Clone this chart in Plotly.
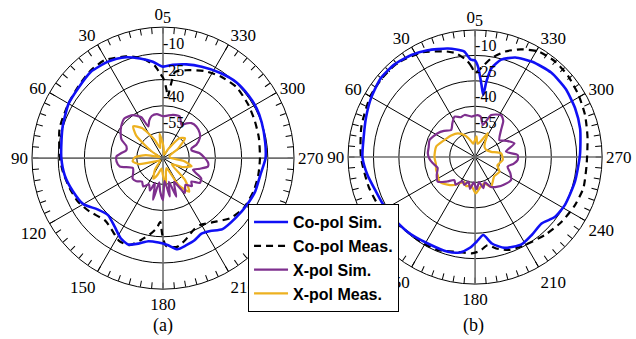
import plotly.graph_objects as go

# ---------------- data (pattern angle in deg, CCW from top; gain in dB) ----------------
# (a)
a_co_sim_theta = [0, 6, 13, 20, 25, 30, 40, 50, 60, 72, 80, 90, 100, 110, 120, 128, 136, 145, 152, 158,
                  164, 170, 177, 183, 189, 195, 201, 207, 213, 220, 231, 241, 250, 260, 270, 279, 290,
                  298, 306, 316, 326, 337, 346, 354, 360]
a_co_sim_r = [-17.6, -14.5, -11.5, -8.5, -7.2, -6.4, -5.6, -7.0, -7.6, -9.7, -11.0, -11.8, -12.9, -15.0,
              -17.3, -22.4, -24.7, -21.9, -18.2, -16.7, -19.1, -21.7, -21.6, -20.2, -17.2, -18.4, -19.6,
              -21.5, -20.3, -17.0, -16.1, -15.0, -13.9, -13.5, -11.3, -10.8, -9.9, -9.3, -9.3, -9.6,
              -11.2, -13.2, -14.7, -16.3, -17.6]

a_co_meas_theta = [0, 3, 5, 10, 14, 20, 31, 40, 50, 60, 74, 90, 98, 108, 117, 126, 137, 146, 152, 159,
                   165, 171, 175, 177.5, 179.5, 182, 189, 195, 203, 209, 218, 228, 238, 250, 260, 270,
                   282, 292, 302, 314, 325, 335, 345, 352, 354, 355.5, 357, 358.5, 360]
a_co_meas_r = [-24.0, -20.0, -17.0, -13.0, -10.6, -8.0, -4.7, -5.0, -6.5, -7.5, -8.4, -11.0, -12.2, -13.9,
               -15.3, -18.0, -21.3, -19.0, -16.4, -16.7, -21.5, -26.4, -30.0, -33.5, -26.0, -19.7,
               -18.6, -21.3, -25.3, -26.2, -23.5, -18.5, -15.7, -14.8, -14.6, -14.5, -13.9, -13.3,
               -12.4, -11.5, -12.8, -14.9, -17.9, -20.2, -28.0, -35.0, -31.0, -27.0, -24.0]

a_x_sim_theta = [0, 8, 15, 20, 25, 28, 35, 44, 53, 60, 66, 72, 78, 83, 88, 94, 101, 108, 116, 124, 131,
                 138, 145, 152, 158, 162, 166.5, 171, 175, 180, 184, 190, 194, 199, 205, 212, 220, 226,
                 230.5, 236, 242, 248.7, 254, 259.5, 264, 270, 278, 285, 289, 292, 298.6, 304, 313.5,
                 321, 326, 331, 338, 347, 354, 360]
a_x_sim_r = [-46, -44.5, -45, -47, -50, -43.5, -40, -38.3, -40, -42, -44, -48, -48.5, -46, -43.3, -43.3,
             -44.8, -51.9, -51, -49, -49.8, -52, -50.2, -53, -50, -55, -45.5, -56, -51, -46, -57, -47.7,
             -56, -46.7, -55, -46.5, -50, -47, -49, -44.6, -45.2, -51.6, -48, -43.8, -44, -46, -49, -53,
             -52.8, -49.4, -46, -44.6, -43.7, -44.2, -46, -48.2, -44.3, -44.6, -45.5, -46]

a_x_meas_theta = [0, 8, 15, 25, 35, 43, 50, 60, 70, 80, 88, 96, 104, 115, 130, 145, 155, 162, 172, 180,
                  186, 192, 200, 210, 218, 225, 235, 245, 254, 262, 275, 290, 302, 312, 320, 330, 345,
                  355, 360]
a_x_meas_r = [-62, -56, -64, -58, -49, -45, -50, -63, -68, -60, -54, -52.5, -56, -66, -68, -62, -57, -60,
              -64, -60, -54, -62, -64, -52, -45.6, -52, -64, -58, -53, -58, -66, -66, -60, -53, -55, -64,
              -68, -65, -62]

# (b)
b_co_sim_theta = [0, 2.5, 6, 14, 24, 32, 41, 50, 60, 70, 80, 90, 99.5, 109, 117, 127, 138, 151, 164, 171,
                  177, 181, 186, 191, 198, 208, 216, 225, 233, 242, 256, 271, 285, 296, 307, 318, 329,
                  338, 345, 349.5, 351.5, 352.5, 355, 358, 360]
b_co_sim_r = [-13.0, -12.5, -7.3, -4.0, -1.0, 1.0, 2.5, 2.6, 0.7, -1.5, -3.2, -3.5, -5.6, -8.0, -8.9, -9.8,
              -10.5, -11.8, -11.8, -13.0, -16.5, -20.0, -23.7, -18.0, -13.6, -11.6, -13.1, -14.5, -11.1,
              -9.9, -9.3, -8.1, -5.8, -4.3, -3.1, -2.9, -4.4, -6.6, -10.5, -16.5, -24.8, -33.0, -27.0,
              -17.0, -13.0]

b_co_meas_theta = [0, 2, 4.5, 10, 15, 27, 40, 50, 60, 75, 90, 106, 120, 138, 147, 158, 170, 178, 183, 188,
                   193, 200, 210, 222, 233, 244, 254, 266, 280, 291, 301, 311, 320, 329, 337, 344, 350.5,
                   355, 360]
b_co_meas_r = [-20.4, -17.0, -13.3, -8.0, -5.5, -0.7, 2.0, 2.0, 1.5, -0.5, -2.6, -4.8, -6.5, -10.5, -10.6,
               -10.8, -13.1, -13.1, -14.5, -17.4, -14.6, -11.7, -10.3, -8.2, -6.2, -4.6, -3.5, -4.0,
               -2.6, -0.5, 1.2, 2.8, 3.6, 2.7, -0.9, -5.2, -10.7, -16.0, -20.4]

b_x_sim_theta = [0, 5, 14, 20, 27, 34, 41.6, 50, 57.6, 69.6, 78, 85.6, 92, 98.5, 106, 115, 123.5, 131, 138,
                 145, 152, 159, 165, 171, 177, 183, 189, 195, 201, 208, 217.4, 226, 237.4, 245, 253.5,
                 260, 266, 272.7, 280, 289, 297, 305, 316, 322, 328, 339, 346.5, 352, 356.4, 360]
b_x_sim_r = [-45.5, -46, -44.4, -45, -43.2, -46, -48.7, -46, -43.8, -41.3, -42, -42, -43, -44.8, -47, -45,
             -43.6, -48, -51.7, -50, -54, -52.3, -55, -51, -55, -51, -55, -51, -54, -50, -48, -46.5,
             -44.8, -47, -50, -47, -44.8, -44.8, -51.5, -45.4, -49, -52.5, -48, -43, -40.9, -43.4,
             -50.5, -46, -45.2, -45.5]

b_x_meas_theta = [0, 8, 15, 25, 36, 48, 61, 75, 90, 100, 108, 116, 124.7, 135, 143.6, 156.6, 163, 172,
                  181, 190, 199.5, 208, 225, 239, 250, 264, 278, 288, 300, 315, 325, 332, 340, 350,
                  356, 360]
b_x_meas_r = [-60, -62, -60, -56, -52.7, -51, -49.3, -46.2, -46, -46.5, -45.8, -45.5, -44.4, -47, -49.5,
              -54, -52, -53, -48.5, -52, -53.5, -50, -54, -53.2, -56, -53.6, -54.5, -60, -62, -62, -60,
              -54, -60, -62, -57.7, -60]

series_names = ["Co-pol Sim.", "Co-pol Meas.", "X-pol Sim.", "X-pol Meas."]
angle_labels = [0, 30, 60, 90, 120, 150, 180, 210, 240, 270, 300, 330]
radial_ticks = [-55, -40, -25, -10, 5]
R_MIN, R_MAX = -70, 5

# ---------------- styles ----------------
styles = [
    dict(color="#1010F5", width=2.6, dash="solid"),
    dict(color="black", width=2.2, dash="7px,5px"),
    dict(color="#7E2F8E", width=2.2, dash="solid"),
    dict(color="#EDB120", width=2.2, dash="solid"),
]

fig = go.Figure()

def add_spokes(subplot):
    diag_t, diag_r, axis_t, axis_r = [], [], [], []
    for a in angle_labels:
        if a % 90 == 0:
            axis_t += [a, a, None]; axis_r += [R_MIN, R_MAX, None]
        else:
            diag_t += [a, a, None]; diag_r += [R_MIN, R_MAX, None]
    fig.add_trace(go.Scatterpolar(theta=diag_t, r=diag_r, mode="lines", subplot=subplot,
                                  line=dict(color="black", width=1), showlegend=False, hoverinfo="skip"))
    fig.add_trace(go.Scatterpolar(theta=axis_t, r=axis_r, mode="lines", subplot=subplot,
                                  line=dict(color="#6e6e6e", width=1.6), showlegend=False, hoverinfo="skip"))

def add_radial_labels(subplot):
    fig.add_trace(go.Scatterpolar(theta=[0] * len(radial_ticks), r=radial_ticks, mode="text",
                                  text=[str(v) for v in radial_ticks], textposition="top right",
                                  textfont=dict(family="Liberation Serif", size=16, color="black"),
                                  subplot=subplot, showlegend=False, hoverinfo="skip", cliponaxis=False))

panels = [
    ("polar", [(a_co_sim_theta, a_co_sim_r), (a_co_meas_theta, a_co_meas_r),
               (a_x_sim_theta, a_x_sim_r), (a_x_meas_theta, a_x_meas_r)], True),
    ("polar2", [(b_co_sim_theta, b_co_sim_r), (b_co_meas_theta, b_co_meas_r),
                (b_x_sim_theta, b_x_sim_r), (b_x_meas_theta, b_x_meas_r)], False),
]

for subplot, series, show in panels:
    add_spokes(subplot)
    order = [3, 2, 1, 0]  # draw co-pol on top
    for i in order:
        th, rr = series[i]
        fig.add_trace(go.Scatterpolar(theta=th, r=rr, mode="lines", subplot=subplot,
                                      name=series_names[i], legendgroup=series_names[i],
                                      legendrank=i + 1, showlegend=show,
                                      line=dict(color=styles[i]["color"], width=styles[i]["width"],
                                                dash=styles[i]["dash"], shape="spline", smoothing=0.6)))
    add_radial_labels(subplot)

tickvals = list(range(0, 360, 5))
ticktext = [("0&nbsp;&nbsp;" if v == 0 else str(v)) if v % 30 == 0 else "" for v in tickvals]

def polar_layout(domain_x, domain_y):
    return dict(
        domain=dict(x=domain_x, y=domain_y),
        bgcolor="white",
        angularaxis=dict(rotation=90, direction="counterclockwise", tickmode="array",
                         tickvals=tickvals, ticktext=ticktext, ticks="inside", ticklen=6,
                         tickcolor="black", tickwidth=1, showgrid=False, showline=True,
                         linecolor="black", linewidth=1, layer="below traces",
                         tickfont=dict(family="Liberation Serif", size=17, color="black")),
        radialaxis=dict(range=[R_MIN, R_MAX], tickmode="array", tickvals=radial_ticks,
                        showticklabels=False, showgrid=True, gridcolor="black",
                        gridwidth=1, showline=False, ticks="", angle=90,
                        layer="below traces"),
    )

fig.update_layout(
    width=636, height=339,
    margin=dict(l=0, r=0, t=0, b=0),
    paper_bgcolor="white", plot_bgcolor="white",
    polar=polar_layout([0.0503, 0.4623], [0.147, 0.920]),
    polar2=polar_layout([0.547, 0.947], [0.162, 0.9115]),
    legend=dict(x=0.39, y=0.398, xanchor="left", yanchor="top", bgcolor="white",
                bordercolor="black", borderwidth=1, itemwidth=34, tracegroupgap=0,
                font=dict(family="Liberation Sans", size=16, color="black", weight="bold")),
    annotations=[
        dict(text="(a)", x=0.256, y=0.041, xref="paper", yref="paper", showarrow=False,
             xanchor="center", yanchor="middle",
             font=dict(family="Liberation Serif", size=18, color="black")),
        dict(text="(b)", x=0.744, y=0.041, xref="paper", yref="paper", showarrow=False,
             xanchor="center", yanchor="middle",
             font=dict(family="Liberation Serif", size=18, color="black")),
    ],
)

fig.write_html("out.html", config={"displayModeBar": False},
               post_script="document.body.style.margin='0px';")
